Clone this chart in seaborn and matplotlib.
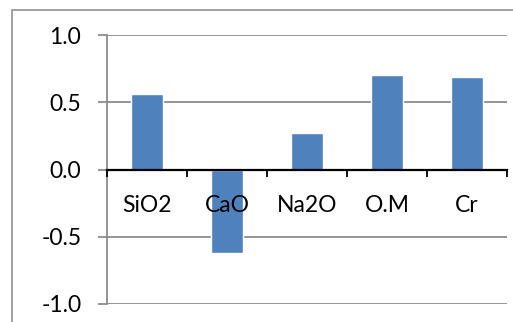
import matplotlib
matplotlib.use("Agg")
import matplotlib.pyplot as plt
from matplotlib.patches import Rectangle
from matplotlib.ticker import FormatStrFormatter, FixedLocator
import seaborn as sns
import pandas as pd

# Correlation values per component
categories = ["SiO2", "CaO", "Na2O", "O.M", "Cr"]
values = [0.56, -0.62, 0.27, 0.70, 0.69]
yticks = [-1.0, -0.5, 0.0, 0.5, 1.0]

sns.set_theme(style="white")
plt.rcParams["font.family"] = ["Lato", "DejaVu Sans"]

W, H = 513, 322
fig = plt.figure(figsize=(W / 100, H / 100), dpi=100)
ax = fig.add_axes([107 / W, (H - 304) / H, (507 - 107) / W, (304 - 35) / H])

df = pd.DataFrame({"item": categories, "value": values})
sns.barplot(data=df, x="item", y="value", color="#4F81BD", saturation=1,
            width=0.4, ax=ax, zorder=2)
# category labels sit on top of the bars
ax.set_axisbelow(False)

grid_c = "#8C8C8C"
ax.set_ylim(-1.0, 1.0)
ax.set_xlim(-0.5, len(categories) - 0.5)
ax.set_yticks(yticks)
ax.yaxis.set_major_formatter(FormatStrFormatter("%.1f"))
for y in yticks:
    if y != 0:
        ax.axhline(y, color=grid_c, lw=1.3, zorder=1)

for s in ["top", "right"]:
    ax.spines[s].set_visible(False)
ax.spines["left"].set_color(grid_c)
ax.spines["left"].set_linewidth(1.3)
ax.spines["bottom"].set_position(("data", 0))
ax.spines["bottom"].set_color("black")
ax.spines["bottom"].set_linewidth(1.6)
ax.spines["bottom"].set_zorder(4)

ax.tick_params(axis="y", length=6.5, width=1.3, color=grid_c, pad=12,
               labelsize=16.5, labelcolor="black", left=True)
ax.tick_params(axis="x", which="major", length=0, pad=18, labelsize=16.5,
               labelcolor="black")
ax.xaxis.set_minor_locator(FixedLocator([i - 0.5 for i in range(len(categories) + 1)]))
ax.tick_params(axis="x", which="minor", length=5, width=1.3, color="black",
               direction="out", bottom=True)
ax.set_xlabel("")
ax.set_ylabel("")

# Chart area border
fig.patches.append(Rectangle((12 / W, -0.1), 1.2, (H - 10) / H + 0.1,
                             transform=fig.transFigure, fill=False,
                             edgecolor="#9A9A9A", lw=1.3))

fig.savefig("out.png", dpi=100)
